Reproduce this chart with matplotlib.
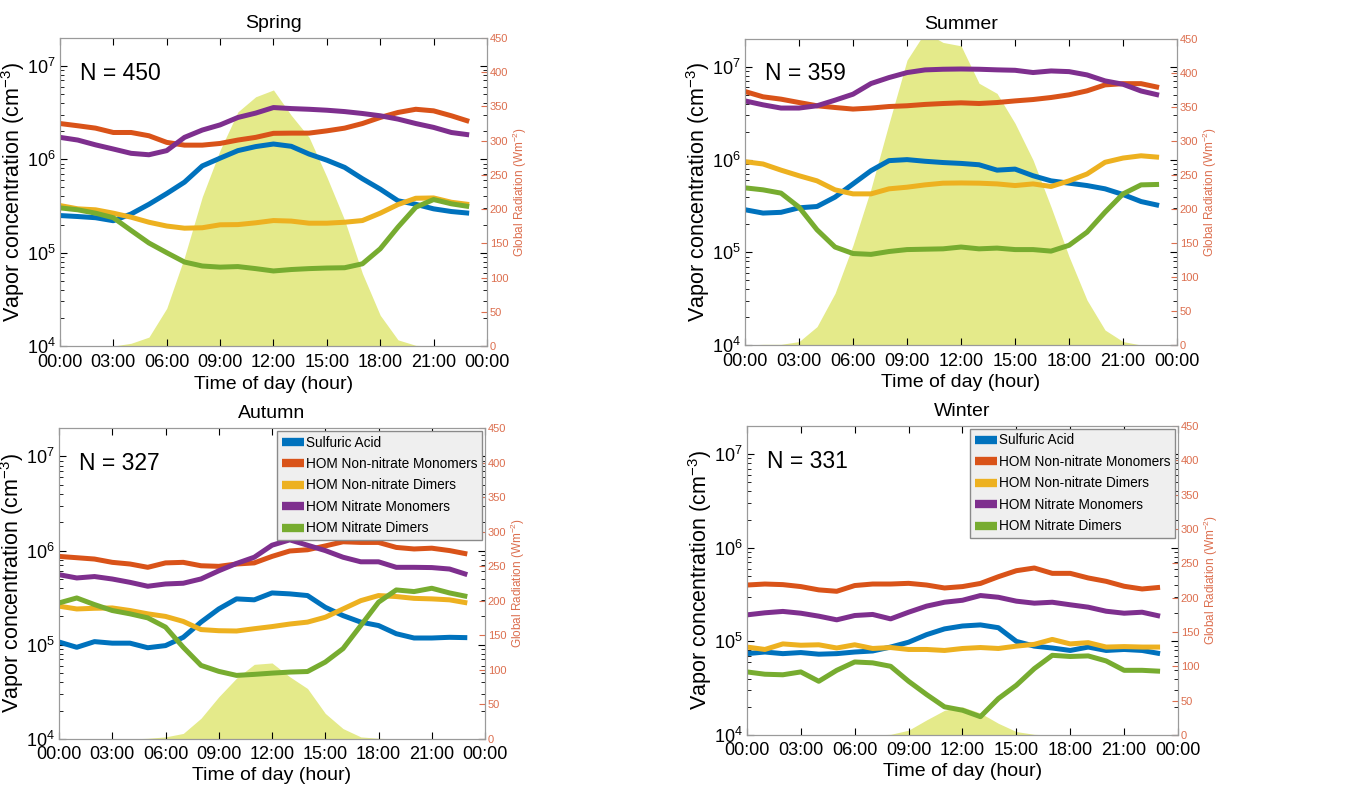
import matplotlib
matplotlib.use("Agg")
import matplotlib.pyplot as plt
import numpy as np

plt.rcParams['font.family'] = ['Liberation Sans', 'DejaVu Sans']
plt.rcParams['mathtext.fontset'] = 'custom'
plt.rcParams['mathtext.rm'] = 'Liberation Sans'

hours = np.arange(24)
tick_hours = np.arange(0, 25, 3)
tick_labels = ['00:00', '03:00', '06:00', '09:00', '12:00', '15:00', '18:00', '21:00', '00:00']

series_names = ['Sulfuric Acid', 'HOM Non-nitrate Monomers', 'HOM Non-nitrate Dimers',
                'HOM Nitrate Monomers', 'HOM Nitrate Dimers']
series_colors = ['#0072BD', '#D95319', '#EDB120', '#7E2F8E', '#77AC30']

seasons = ['Spring', 'Summer', 'Autumn', 'Winter']
n_obs = [450, 359, 327, 331]

# global radiation (W m-2), hourly
rad_spring = [0, 0, 0, 0, 4, 13, 55, 130, 218, 286, 342, 364, 374, 337, 305, 247,
              184, 106, 45, 9, 1, 0, 0, 0]
rad_summer = [0, 1, 1, 5, 27, 76, 147, 230, 326, 419, 460, 445, 440, 385, 370, 326,
              272, 203, 130, 66, 22, 5, 0, 0]
rad_autumn = [0, 0, 0, 0, 0, 1, 3, 8, 30, 61, 88, 108, 110, 90, 73, 37,
              15, 3, 1, 0, 0, 0, 0, 0]
rad_winter = [0, 0, 0, 0, 0, 0, 0, 0, 1, 7, 22, 36, 41, 32, 17, 5,
              1, 0, 0, 0, 0, 0, 0, 0]

# vapor concentrations (cm-3), hourly
sa_spring = [2.5e5, 2.44e5, 2.37e5, 2.2e5, 2.6e5, 3.3e5, 4.3e5, 5.7e5, 8.5e5, 1.03e6, 1.24e6, 1.37e6,
             1.46e6, 1.38e6, 1.14e6, 9.8e5, 8.2e5, 6.2e5, 4.8e5, 3.6e5, 3.3e5, 2.95e5, 2.76e5, 2.65e5]
nnm_spring = [2.42e6, 2.29e6, 2.16e6, 1.94e6, 1.94e6, 1.79e6, 1.52e6, 1.42e6, 1.42e6, 1.48e6, 1.61e6, 1.72e6,
              1.9e6, 1.91e6, 1.91e6, 2.02e6, 2.16e6, 2.42e6, 2.81e6, 3.18e6, 3.44e6, 3.31e6, 2.93e6, 2.55e6]
nnd_spring = [3.2e5, 2.95e5, 2.88e5, 2.65e5, 2.4e5, 2.12e5, 1.93e5, 1.83e5, 1.85e5, 1.99e5, 2.0e5, 2.09e5,
              2.21e5, 2.18e5, 2.07e5, 2.07e5, 2.12e5, 2.21e5, 2.65e5, 3.28e5, 3.83e5, 3.86e5, 3.47e5, 3.28e5]
nm_spring = [1.72e6, 1.61e6, 1.43e6, 1.29e6, 1.16e6, 1.12e6, 1.24e6, 1.72e6, 2.06e6, 2.34e6, 2.81e6, 3.13e6,
             3.59e6, 3.5e6, 3.44e6, 3.36e6, 3.25e6, 3.1e6, 2.93e6, 2.7e6, 2.42e6, 2.2e6, 1.94e6, 1.83e6]
nd_spring = [3.02e5, 2.88e5, 2.65e5, 2.37e5, 1.73e5, 1.27e5, 1.0e5, 7.94e4, 7.2e4, 7.0e4, 7.1e4, 6.75e4,
             6.37e4, 6.6e4, 6.75e4, 6.85e4, 6.9e4, 7.6e4, 1.1e5, 1.88e5, 3.07e5, 3.71e5, 3.34e5, 3.12e5]

sa_summer = [2.88e5, 2.65e5, 2.7e5, 3.02e5, 3.12e5, 3.94e5, 5.47e5, 7.6e5, 9.75e5, 1.0e6, 9.6e5, 9.3e5,
             9.1e5, 8.8e5, 7.7e5, 7.9e5, 6.7e5, 5.9e5, 5.57e5, 5.25e5, 4.84e5, 4.2e5, 3.53e5, 3.2e5]
nnm_summer = [5.43e6, 4.76e6, 4.49e6, 4.13e6, 3.81e6, 3.65e6, 3.51e6, 3.6e6, 3.74e6, 3.81e6, 3.94e6, 4.03e6,
              4.1e6, 4.03e6, 4.13e6, 4.3e6, 4.45e6, 4.68e6, 5.0e6, 5.52e6, 6.4e6, 6.6e6, 6.6e6, 6.0e6]
nnd_summer = [9.5e5, 8.97e5, 7.7e5, 6.7e5, 5.9e5, 4.72e5, 4.27e5, 4.27e5, 4.84e5, 5.04e5, 5.34e5, 5.57e5,
              5.6e5, 5.57e5, 5.47e5, 5.25e5, 5.47e5, 5.13e5, 5.9e5, 7.0e5, 9.36e5, 1.04e6, 1.1e6, 1.06e6]
nm_summer = [4.3e6, 3.9e6, 3.6e6, 3.6e6, 3.81e6, 4.38e6, 5.08e6, 6.62e6, 7.68e6, 8.69e6, 9.29e6, 9.44e6,
             9.5e6, 9.44e6, 9.3e6, 9.2e6, 8.7e6, 9.05e6, 8.9e6, 8.2e6, 7.07e6, 6.5e6, 5.5e6, 4.96e6]
nd_summer = [4.96e5, 4.72e5, 4.35e5, 3.07e5, 1.75e5, 1.14e5, 9.7e4, 9.5e4, 1.02e5, 1.07e5, 1.08e5, 1.09e5,
             1.14e5, 1.09e5, 1.11e5, 1.07e5, 1.07e5, 1.03e5, 1.19e5, 1.65e5, 2.71e5, 4.27e5, 5.34e5, 5.4e5]

sa_autumn = [1.07e5, 9.4e4, 1.08e5, 1.04e5, 1.04e5, 9.3e4, 9.8e4, 1.2e5, 1.74e5, 2.4e5, 3.07e5, 3.0e5,
             3.55e5, 3.47e5, 3.33e5, 2.5e5, 2.04e5, 1.74e5, 1.6e5, 1.31e5, 1.18e5, 1.18e5, 1.2e5, 1.19e5]
nnm_autumn = [8.67e5, 8.4e5, 8.13e5, 7.5e5, 7.2e5, 6.64e5, 7.4e5, 7.5e5, 6.9e5, 6.8e5, 7.2e5, 7.4e5,
              8.67e5, 9.9e5, 1.02e6, 1.12e6, 1.24e6, 1.22e6, 1.22e6, 1.08e6, 1.04e6, 1.06e6, 1.0e6, 9.2e5]
nnd_autumn = [2.57e5, 2.4e5, 2.44e5, 2.46e5, 2.31e5, 2.13e5, 2.0e5, 1.77e5, 1.45e5, 1.41e5, 1.4e5, 1.48e5,
              1.56e5, 1.66e5, 1.74e5, 1.96e5, 2.4e5, 2.94e5, 3.33e5, 3.25e5, 3.11e5, 3.07e5, 3.0e5, 2.78e5]
nm_autumn = [5.55e5, 5.12e5, 5.3e5, 4.99e5, 4.6e5, 4.18e5, 4.42e5, 4.5e5, 5.0e5, 6.1e5, 7.3e5, 8.5e5,
             1.14e6, 1.3e6, 1.14e6, 1.0e6, 8.5e5, 7.6e5, 7.6e5, 6.64e5, 6.64e5, 6.6e5, 6.37e5, 5.55e5]
nd_autumn = [2.78e5, 3.14e5, 2.67e5, 2.31e5, 2.13e5, 1.93e5, 1.54e5, 9.4e4, 6.04e4, 5.22e4, 4.73e4, 4.85e4,
             5.0e4, 5.13e4, 5.2e4, 6.55e4, 9.1e4, 1.6e5, 2.83e5, 3.82e5, 3.67e5, 3.98e5, 3.55e5, 3.25e5]

sa_winter = [7.4e4, 7.7e4, 7.4e4, 7.6e4, 7.3e4, 7.4e4, 7.7e4, 7.9e4, 8.7e4, 9.8e4, 1.18e5, 1.36e5,
             1.46e5, 1.5e5, 1.4e5, 1.0e5, 8.9e4, 8.5e4, 8.0e4, 8.7e4, 8.0e4, 8.2e4, 8.0e4, 7.4e4]
nnm_winter = [4.0e5, 4.1e5, 4.04e5, 3.85e5, 3.55e5, 3.43e5, 3.95e5, 4.1e5, 4.1e5, 4.17e5, 4.0e5, 3.72e5,
              3.85e5, 4.16e5, 4.91e5, 5.69e5, 6.08e5, 5.33e5, 5.33e5, 4.76e5, 4.38e5, 3.88e5, 3.63e5, 3.78e5]
nnd_winter = [8.7e4, 8.2e4, 9.4e4, 9.1e4, 9.2e4, 8.5e4, 9.2e4, 8.4e4, 8.6e4, 8.2e4, 8.2e4, 8.0e4,
              8.4e4, 8.6e4, 8.4e4, 8.9e4, 9.3e4, 1.05e5, 9.4e4, 9.7e4, 8.7e4, 8.8e4, 8.7e4, 8.7e4]
nm_winter = [1.92e5, 2.02e5, 2.09e5, 2.0e5, 1.86e5, 1.7e5, 1.89e5, 1.94e5, 1.74e5, 2.05e5, 2.38e5, 2.62e5,
             2.75e5, 3.09e5, 2.96e5, 2.69e5, 2.56e5, 2.62e5, 2.46e5, 2.32e5, 2.1e5, 2.0e5, 2.05e5, 1.86e5]
nd_winter = [4.72e4, 4.46e4, 4.4e4, 4.72e4, 3.75e4, 4.91e4, 6.03e4, 5.9e4, 5.42e4, 3.75e4, 2.71e4, 2.0e4,
             1.84e4, 1.57e4, 2.45e4, 3.4e4, 5.12e4, 7.1e4, 6.9e4, 7.0e4, 6.18e4, 4.91e4, 4.91e4, 4.8e4]

season_rad = [rad_spring, rad_summer, rad_autumn, rad_winter]
season_lines = [
    [sa_spring, nnm_spring, nnd_spring, nm_spring, nd_spring],
    [sa_summer, nnm_summer, nnd_summer, nm_summer, nd_summer],
    [sa_autumn, nnm_autumn, nnd_autumn, nm_autumn, nd_autumn],
    [sa_winter, nnm_winter, nnd_winter, nm_winter, nd_winter],
]

# axes boxes in figure fraction [left, bottom, width, height]
boxes = [
    [0.0438, 0.562, 0.3119, 0.390],
    [0.5442, 0.5633, 0.3156, 0.3873],
    [0.0431, 0.0646, 0.3112, 0.3936],
    [0.5456, 0.0696, 0.3149, 0.3912],
]

rad_color = '#DC6E4E'
fill_color = '#E4EA8A'
frame_color = '#9a9a9a'

fig = plt.figure(figsize=(13.69, 7.90), dpi=100)

for k in range(4):
    ax = fig.add_axes(boxes[k])
    ax2 = ax.twinx()
    ax.set_zorder(ax2.get_zorder() + 1)
    ax.patch.set_visible(False)

    ax2.fill_between(hours, season_rad[k], 0, color=fill_color, lw=0)
    ax2.set_ylim(0, 450)
    ax2.set_yticks(np.arange(0, 451, 50))
    ax2.tick_params(axis='y', direction='in', colors=rad_color, labelsize=8, length=4, pad=2)
    ax2.set_ylabel('Global Radiation (Wm$^{-2}$)', color=rad_color, fontsize=8.5, labelpad=2)

    for vals, name, c in zip(season_lines[k], series_names, series_colors):
        ax.plot(hours, vals, color=c, lw=3.6, label=name, solid_capstyle='butt')

    ax.set_yscale('log')
    ax.set_ylim(1e4, 2e7)
    ax.set_xlim(0, 24)
    ax.set_xticks(tick_hours)
    ax.set_xticklabels(tick_labels)
    ax.set_yticks([1e4, 1e5, 1e6, 1e7])
    ax.set_yticklabels(['$10^{4}$', '$10^{5}$', '$10^{6}$', '$10^{7}$'])
    ax.tick_params(which='both', direction='in', top=True, right=True, labelsize=13)
    ax.tick_params(axis='x', pad=6 if k < 2 else 5)
    ax.tick_params(axis='y', pad=3)
    ax.tick_params(which='major', length=5)
    ax.tick_params(which='minor', length=3)
    ax.set_xlabel('Time of day (hour)', fontsize=14, labelpad=3)
    ax.set_ylabel('Vapor concentration (cm$^{-3}$)', fontsize=15.5)
    ax.yaxis.set_label_coords(-0.077, 0.5)
    ax.set_title(seasons[k], fontsize=14, pad=7)
    ax.text(0.047, 0.886, 'N = %d' % n_obs[k], transform=ax.transAxes, fontsize=16.5,
            va='center', ha='left')

    for a in (ax, ax2):
        for sp in a.spines.values():
            sp.set_color(frame_color)

    if k >= 2:
        leg = ax.legend(loc='upper right', fontsize=9.8, frameon=True, fancybox=False,
                        borderaxespad=0.2, handlelength=1.6, handletextpad=0.15,
                        labelspacing=0.55, borderpad=0.35)
        leg.get_frame().set_facecolor('#efefef')
        leg.get_frame().set_edgecolor('#8a8a8a')
        leg.get_frame().set_alpha(1)
        for h in leg.legend_handles:
            h.set_linewidth(6)

fig.savefig('out.png', dpi=100)
